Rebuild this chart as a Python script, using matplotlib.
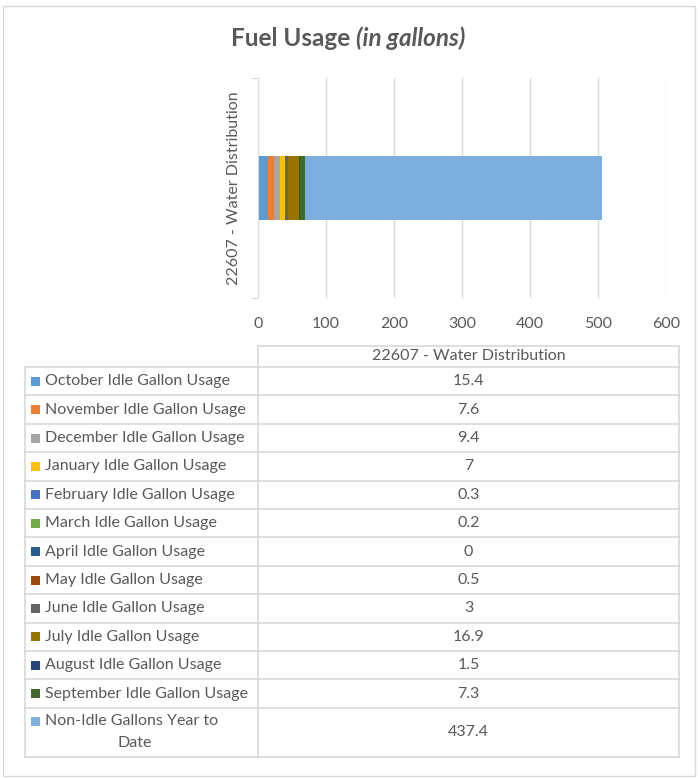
import matplotlib
matplotlib.use('Agg')
import matplotlib.pyplot as plt
from matplotlib.lines import Line2D
from matplotlib.patches import Rectangle

plt.rcParams['font.family'] = ['Lato', 'DejaVu Sans']

# data
category = '22607 - Water Distribution'
series_names = [
    'October Idle Gallon Usage', 'November Idle Gallon Usage',
    'December Idle Gallon Usage', 'January Idle Gallon Usage',
    'February Idle Gallon Usage', 'March Idle Gallon Usage',
    'April Idle Gallon Usage', 'May Idle Gallon Usage',
    'June Idle Gallon Usage', 'July Idle Gallon Usage',
    'August Idle Gallon Usage', 'September Idle Gallon Usage',
    'Non-Idle Gallons Year to\nDate',
]
values = [15.4, 7.6, 9.4, 7, 0.3, 0.2, 0, 0.5, 3, 16.9, 1.5, 7.3, 437.4]
colors = ['#5B9BD5', '#ED7D31', '#A5A5A5', '#FFC000', '#4472C4', '#70AD47',
          '#255E91', '#9E480E', '#636363', '#997300', '#264478', '#43682B',
          '#7CAFDD']
xticks = [0, 100, 200, 300, 400, 500, 600]

W, H = 698, 778
TXT = '#595959'
GRID = '#D9D9D9'

fig = plt.figure(figsize=(W / 100, H / 100), dpi=100)


def fx(px):
    return px / W


def fy(py):
    return 1 - py / H


# outer chart frame
fig.add_artist(Rectangle((fx(3), fy(776)), fx(692), 770 / H, fill=False,
                         edgecolor=GRID, linewidth=1, transform=fig.transFigure))

fig.text(fx(356), fy(38), 'Fuel Usage ', ha='right', va='center',
         fontsize=17.5, fontweight='bold', color=TXT)
fig.text(fx(356), fy(38), '(in gallons)', ha='left', va='center',
         fontsize=17.5, fontweight='bold', fontstyle='italic', color=TXT)

# bar chart
ax = fig.add_axes([fx(258), fy(298), fx(666) - fx(258), (298 - 78) / H])
left = 0
for v, c in zip(values, colors):
    ax.barh(0, v, left=left, height=0.29, color=c)
    left += v
ax.set_xlim(0, 600)
ax.set_ylim(-0.5, 0.5)
ax.set_xticks(xticks)
ax.set_xticklabels([str(t) for t in xticks], fontsize=11.5, color=TXT)
ax.set_yticks([-0.5, 0.5])
ax.set_yticklabels([])
ax.tick_params(axis='x', length=0, pad=14)
ax.tick_params(axis='y', length=5, color=GRID, direction='out')
ax.grid(axis='x', color=GRID, linewidth=1)
ax.set_axisbelow(True)
for s in ['top', 'right', 'bottom']:
    ax.spines[s].set_visible(False)
ax.spines['left'].set_color(GRID)
ax.set_ylabel(category, fontsize=11.5, color=TXT, labelpad=4)

# data table
x_l, x_m, x_r = 25, 258, 679
y_head = 346
row_h = 28.4
y_top = 367
bottoms = [y_top + row_h * (i + 1) for i in range(len(values) - 1)] + [757]
tops = [y_top] + bottoms[:-1]


def hline(x0, x1, y):
    fig.add_artist(Line2D([fx(x0), fx(x1)], [fy(y), fy(y)], color=GRID, linewidth=1.2))


def vline(x, y0, y1):
    fig.add_artist(Line2D([fx(x), fx(x)], [fy(y0), fy(y1)], color=GRID, linewidth=1.2))


hline(x_m, x_r, y_head)
vline(x_m, y_head, bottoms[-1])
vline(x_r, y_head, bottoms[-1])
vline(x_l, y_top, bottoms[-1])
hline(x_l, x_r, y_top)
for b in bottoms:
    hline(x_l, x_r, b)
fig.text(fx((x_m + x_r) / 2), fy((y_head + y_top) / 2), category,
         ha='center', va='center', fontsize=11.5, color=TXT)

for name, v, c, t, b in zip(series_names, values, colors, tops, bottoms):
    yc = (t + b) / 2
    fig.text(fx((x_m + x_r) / 2), fy(yc), f'{v:g}', ha='center', va='center',
             fontsize=11.5, color=TXT)
    if '\n' in name:
        first, second = name.split('\n')
        fig.text(fx(45), fy(yc - 11), first, ha='left', va='center',
                 fontsize=11.5, color=TXT)
        fig.text(fx(135), fy(yc + 11), second, ha='center', va='center',
                 fontsize=11.5, color=TXT)
        sq_y = yc - 11
    else:
        fig.text(fx(45), fy(yc), name, ha='left', va='center',
                 fontsize=11.5, color=TXT)
        sq_y = yc
    fig.add_artist(Rectangle((fx(31), fy(sq_y + 4.5)), fx(9), 9 / H,
                             facecolor=c, edgecolor='none',
                             transform=fig.transFigure))

fig.savefig('out.png', dpi=100)
